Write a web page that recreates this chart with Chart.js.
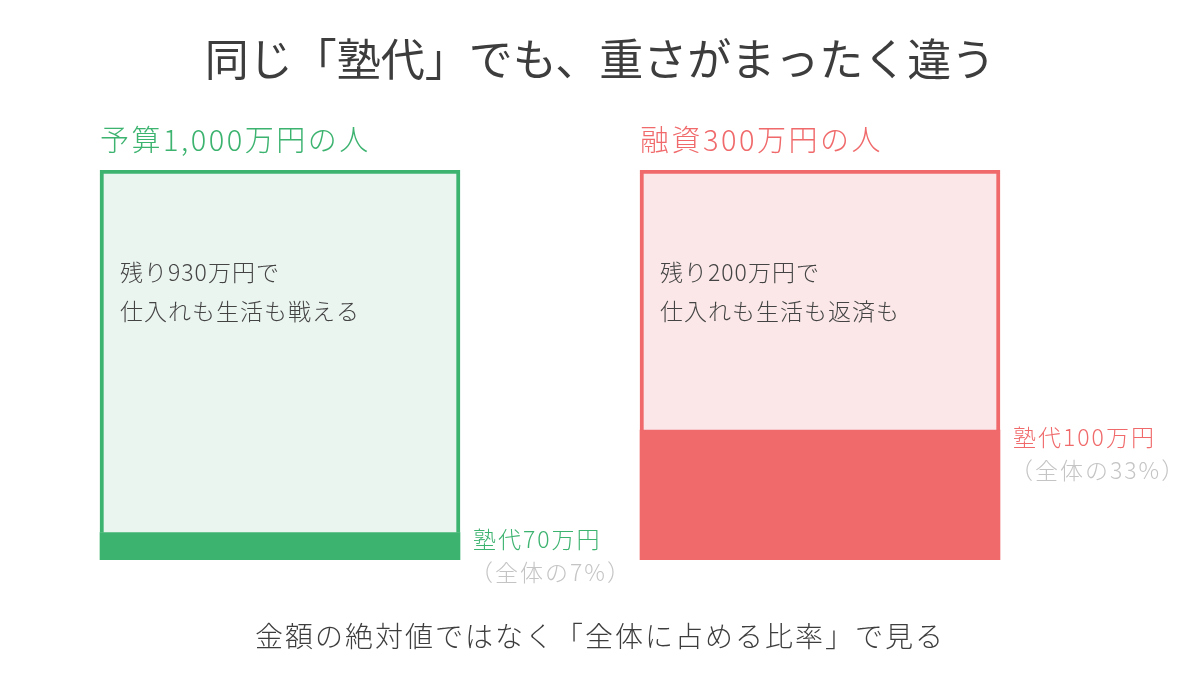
<!DOCTYPE html>
<html lang="ja">
<head>
<meta charset="utf-8">
<script src="https://cdn.jsdelivr.net/npm/chart.js@4.4.1/dist/chart.umd.min.js"></script>
<style>
  html, body { margin: 0; padding: 0; background: #ffffff; }
  #wrap { width: 1200px; height: 700px; position: relative; }
</style>
</head>
<body>
<div id="wrap"><canvas id="c"></canvas></div>
<script>
// ---- data ----
const titleText = '同じ「塾代」でも、重さがまったく違う';
const footerText = '金額の絶対値ではなく「全体に占める比率」で見る';
const categories = ['予算1,000万円の人', '融資300万円の人'];
const totals = [1000, 300];          // 万円
const tuition = [70, 100];           // 塾代 万円
const remaining = [930, 200];        // 残り 万円
const tuitionLabels = ['塾代70万円', '塾代100万円'];
const shareLabels = ['（全体の7%）', '（全体の33%）'];
const innerLines = [
  ['残り930万円で', '仕入れも生活も戦える'],
  ['残り200万円で', '仕入れも生活も返済も']
];

// ---- styles ----
const darkColors = ['#3db370', '#f06a6b'];
const lightColors = ['#ebf5f0', '#fbe7e8'];
const FONT = '"Noto Sans CJK JP", "Noto Sans", sans-serif';

const tuitionShare = tuition.map((v, i) => v / totals[i] * 100);
const remainingShare = remaining.map((v, i) => v / totals[i] * 100);

function setSpacing(ctx, px) {
  if ('letterSpacing' in ctx) ctx.letterSpacing = px + 'px';
}

const textPlugin = {
  id: 'texts',
  afterDraw(chart) {
    const ctx = chart.ctx;
    const metaT = chart.getDatasetMeta(0);
    const metaR = chart.getDatasetMeta(1);
    ctx.save();
    // title
    ctx.textAlign = 'center';
    ctx.textBaseline = 'middle';
    ctx.fillStyle = '#3d3d3d';
    ctx.font = '400 44px ' + FONT;
    setSpacing(ctx, 0);
    ctx.fillText(titleText, 600, 59);
    // footer
    ctx.font = '300 28px ' + FONT;
    setSpacing(ctx, 2);
    ctx.fillText(footerText, 600, 636);

    categories.forEach((cat, i) => {
      const barT = metaT.data[i];
      const barR = metaR.data[i];
      const left = barT.x - barT.width / 2;
      const right = barT.x + barT.width / 2;
      const top = barR.y;
      // category heading
      ctx.textAlign = 'left';
      ctx.fillStyle = darkColors[i];
      ctx.font = '300 29px ' + FONT;
      setSpacing(ctx, 2.5);
      ctx.fillText(cat, left, top - 30);
      // inner text
      ctx.fillStyle = '#444444';
      ctx.font = '300 23px ' + FONT;
      setSpacing(ctx, 1);
      innerLines[i].forEach((line, k) => {
        ctx.fillText(line, left + 20, top + 102 + k * 39);
      });
      // side labels at top of tuition segment
      const segTop = barT.y;
      ctx.fillStyle = darkColors[i];
      ctx.font = '300 23px ' + FONT;
      setSpacing(ctx, 2);
      ctx.fillText(tuitionLabels[i], right + 13, segTop + 7);
      ctx.fillStyle = '#c4c4c4';
      ctx.fillText(shareLabels[i], right + 10, segTop + 40);
    });
    ctx.restore();
  }
};

new Chart(document.getElementById('c'), {
  type: 'bar',
  data: {
    labels: categories,
    datasets: [
      {
        label: '塾代',
        data: tuitionShare,
        backgroundColor: darkColors,
        borderWidth: 0,
        barThickness: 360
      },
      {
        label: '残り',
        data: remainingShare,
        backgroundColor: lightColors,
        borderColor: darkColors,
        borderWidth: 4,
        borderSkipped: 'bottom',
        barThickness: 360
      }
    ]
  },
  options: {
    responsive: true,
    maintainAspectRatio: false,
    animation: false,
    layout: { padding: { left: 10, right: 110, top: 170, bottom: 140 } },
    scales: {
      x: { stacked: true, display: false, offset: true },
      y: { stacked: true, display: false, min: 0, max: 100 }
    },
    plugins: {
      legend: { display: false },
      tooltip: { enabled: false },
      title: { display: false }
    }
  },
  plugins: [textPlugin]
});
</script>
</body>
</html>
